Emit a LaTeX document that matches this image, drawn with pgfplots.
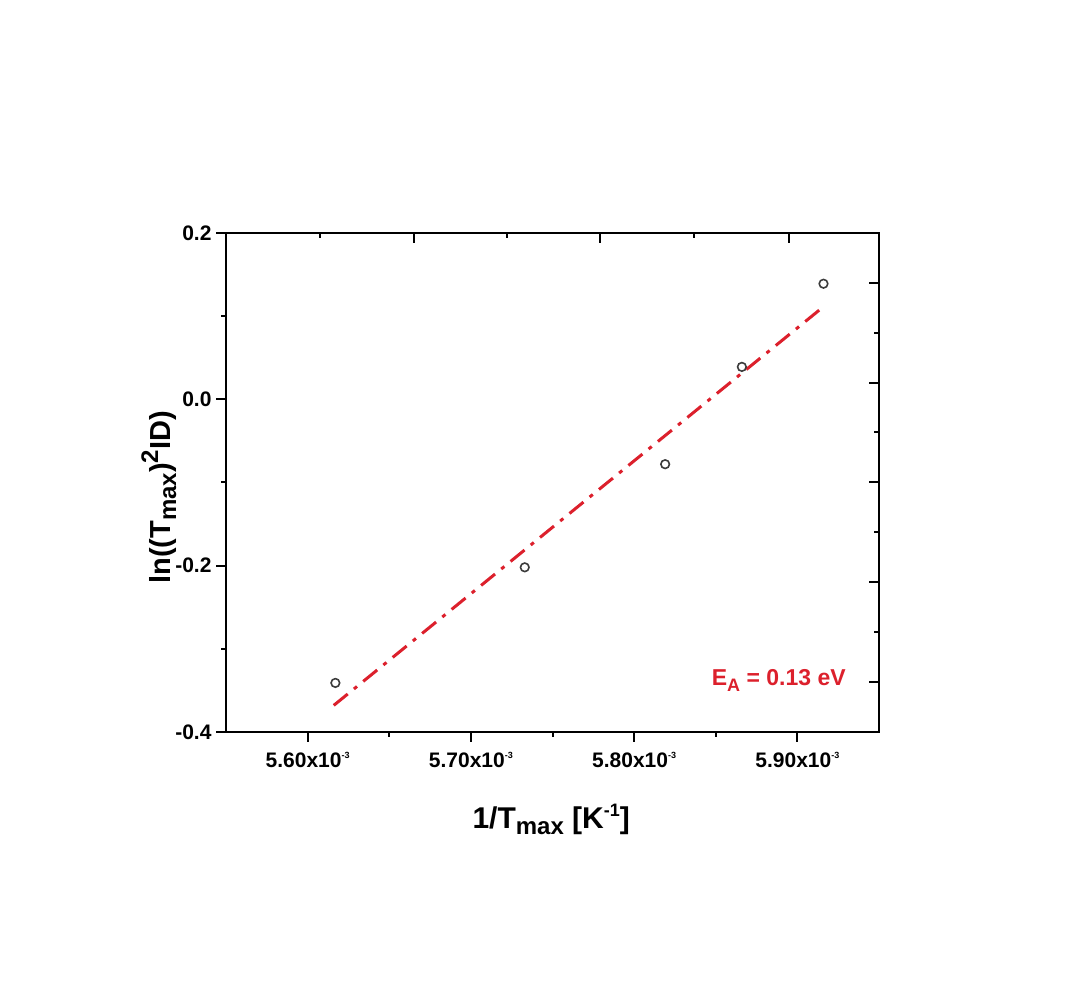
\documentclass[border=0pt]{standalone}
\usepackage{pgfplots}
\pgfplotsset{compat=1.18}
\usepackage{fontspec}
\setmainfont{Liberation Sans}
\definecolor{fitred}{RGB}{220,32,44}
\definecolor{ptgray}{RGB}{60,60,60}
\newcommand{\xlab}[1]{#1x10\raisebox{9pt}{\fontsize{9}{9}\selectfont -3}}
\begin{document}
\begin{tikzpicture}
\path[use as bounding box] (0,0) rectangle (1085pt,1000pt);
\begin{axis}[
  at={(226pt,268pt)}, anchor=south west,
  scale only axis, width=653pt, height=499pt,
  xmin=5.55, xmax=5.95, ymin=-0.4, ymax=0.2,
  xtick={5.6,5.7,5.8,5.9},
  xticklabels={\xlab{5.60},\xlab{5.70},\xlab{5.80},\xlab{5.90}},
  minor xtick={5.65,5.75,5.85},
  ytick={-0.4,-0.2,0,0.2},
  yticklabels={-0.4,-0.2,0.0,0.2},
  minor ytick={-0.3,-0.1,0.1},
  xtick pos=left, ytick pos=left,
  tick align=outside,
  major tick length=10pt, minor tick length=5pt,
  axis line style={line width=2.6pt},
  every tick/.style={black, line width=2pt},
  tick label style={font=\fontsize{21}{21}\selectfont\bfseries},
  xticklabel style={yshift=-7pt},
  yticklabel style={xshift=-1pt},
  xlabel={1/T\raisebox{-6pt}{\fontsize{24}{24}\selectfont max} [K\raisebox{12pt}{\fontsize{18}{18}\selectfont -1}]},
  xlabel style={font=\fontsize{30}{30}\selectfont\bfseries, at={(axis description cs:0.498,-0.176)}, anchor=center},
  ylabel={ln((T\raisebox{-6pt}{\fontsize{24}{24}\selectfont max})\raisebox{12pt}{\fontsize{24}{24}\selectfont 2}ID)},
  ylabel style={font=\fontsize{29}{29}\selectfont\bfseries, at={(axis description cs:-0.103,0.47)}, anchor=center, rotate=0},
  clip=false,
]
\addplot[fitred, line width=3pt, dash pattern=on 18pt off 8pt on 4pt off 8pt]
  coordinates {(5.616,-0.368) (5.917,0.113)};
\addplot[only marks, mark=o, mark size=4.3pt, mark options={ptgray, line width=1.6pt}]
  coordinates {
    (5.617,-0.341)
    (5.733,-0.202)
    (5.819,-0.078)
    (5.866,0.039)
    (5.916,0.139)
  };
\node[anchor=base west, text=fitred, font=\fontsize{23}{23}\selectfont\bfseries, inner sep=0pt]
  at (axis cs:5.8475,-0.3435) {E\raisebox{-6pt}{\fontsize{18}{18}\selectfont A} = 0.13 eV};
\end{axis}
\begin{axis}[
  at={(226pt,268pt)}, anchor=south west,
  scale only axis, width=653pt, height=499pt,
  xmin=226, xmax=879, ymin=268, ymax=767,
  xtick={414,600,789}, minor xtick={320,507,694},
  ytick={318,418,518,617,717}, minor ytick={368,468,568,667},
  xticklabels={}, yticklabels={},
  xtick pos=right, ytick pos=right,
  tick align=inside,
  major tick length=10pt, minor tick length=5pt,
  axis line style={line width=2.6pt},
  every tick/.style={black, line width=2pt},
]
\end{axis}
\end{tikzpicture}
\end{document}
